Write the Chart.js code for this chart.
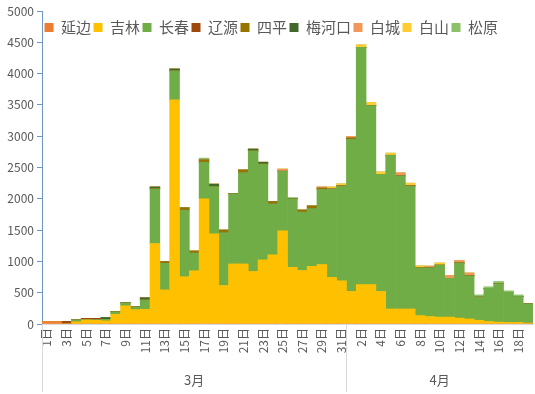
<!DOCTYPE html>
<html>
<head>
<meta charset="utf-8">
<script src="https://cdn.jsdelivr.net/npm/chart.js@4.4.0/dist/chart.umd.min.js"></script>
<style>
  html, body { margin: 0; padding: 0; background: #fff; }
  #wrap { width: 535px; height: 394px; position: relative; }
</style>
</head>
<body>
<div id="wrap"><canvas id="caseChart"></canvas></div>
<script>
const monthLabels = ['3月', '4月'];
const monthDays = [31, 19];

const dayLabels = [
  '1日', '2日', '3日', '4日', '5日', '6日', '7日', '8日', '9日', '10日',
  '11日', '12日', '13日', '14日', '15日', '16日', '17日', '18日', '19日', '20日',
  '21日', '22日', '23日', '24日', '25日', '26日', '27日', '28日', '29日', '30日',
  '31日',
  '1日', '2日', '3日', '4日', '5日', '6日', '7日', '8日', '9日', '10日',
  '11日', '12日', '13日', '14日', '15日', '16日', '17日', '18日', '19日'
];

const yTicks = [0, 500, 1000, 1500, 2000, 2500, 3000, 3500, 4000, 4500, 5000];

// 3月 1-31, then 4月 1-19
const yanbian = [
  40, 40, 0, 0, 0, 0, 0, 0, 0, 0,
  0, 0, 0, 0, 0, 0, 0, 0, 0, 0,
  0, 0, 0, 0, 0, 0, 0, 0, 0, 0,
  0,
  0, 0, 0, 0, 0, 0, 0, 0, 0, 0,
  0, 0, 0, 0, 0, 0, 0, 0, 0
];
const jilin = [
  0, 0, 0, 35, 65, 60, 50, 155, 290, 230,
  235, 1285, 545, 3580, 755, 850, 2000, 1440, 615, 960,
  960, 840, 1025, 1105, 1490, 905, 855, 920, 950, 745,
  690,
  520, 630, 630, 520, 240, 240, 240, 135, 120, 110,
  110, 95, 80, 60, 40, 30, 25, 25, 15
];
const changchun = [
  0, 0, 0, 35, 5, 10, 25, 40, 50, 45,
  150, 875, 425, 465, 1065, 285, 585, 755, 845, 1120,
  1460, 1925, 1530, 815, 950, 1095, 935, 925, 1200, 1410,
  1515,
  2430, 3790, 2860, 1870, 2455, 2125, 1965, 760, 780, 830,
  620, 880, 690, 370, 530, 615, 480, 415, 310
];
const liaoyuan = [
  0, 0, 40, 0, 20, 20, 0, 0, 0, 0,
  0, 0, 0, 0, 0, 0, 0, 0, 0, 0,
  0, 0, 0, 0, 0, 0, 0, 0, 0, 0,
  0,
  0, 0, 0, 0, 0, 0, 0, 0, 0, 0,
  0, 0, 0, 0, 0, 0, 0, 0, 0
];
const siping = [
  0, 0, 0, 0, 0, 0, 0, 0, 0, 0,
  0, 0, 30, 0, 35, 30, 35, 0, 40, 0,
  40, 0, 0, 35, 0, 0, 30, 40, 20, 0,
  0,
  20, 0, 0, 0, 0, 0, 0, 0, 0, 0,
  0, 0, 0, 0, 0, 0, 0, 0, 0
];
const meihekou = [
  0, 0, 0, 0, 0, 0, 30, 0, 0, 0,
  35, 30, 0, 30, 0, 0, 0, 40, 0, 0,
  0, 30, 30, 0, 0, 0, 0, 0, 0, 0,
  0,
  0, 0, 0, 0, 0, 0, 0, 0, 0, 0,
  0, 0, 0, 0, 0, 0, 0, 0, 0
];
const baicheng = [
  0, 0, 0, 0, 0, 0, 0, 0, 0, 0,
  0, 0, 0, 0, 0, 0, 0, 0, 0, 0,
  0, 0, 0, 0, 35, 0, 0, 0, 20, 15,
  0,
  25, 0, 0, 0, 0, 50, 10, 0, 25, 0,
  45, 40, 45, 0, 0, 0, 0, 0, 0
];
const baishan = [
  0, 0, 0, 0, 0, 0, 0, 0, 0, 0,
  0, 0, 0, 0, 0, 0, 0, 0, 0, 0,
  0, 0, 0, 0, 0, 0, 0, 0, 0, 20,
  35,
  0, 40, 50, 40, 35, 0, 35, 35, 0, 35,
  0, 0, 0, 0, 0, 0, 0, 0, 0
];
const songyuan = [
  0, 0, 0, 0, 0, 0, 0, 0, 0, 0,
  0, 0, 0, 0, 0, 0, 30, 0, 0, 0,
  0, 0, 0, 0, 0, 20, 0, 0, 0, 0,
  0,
  0, 0, 0, 0, 0, 0, 0, 0, 0, 0,
  0, 0, 0, 35, 25, 35, 25, 25, 0
];

const textColor = '#595959';
const axisColor = '#6C97C4';
const lightLine = '#D9D9D9';
const fontFamily = '"Noto Sans CJK SC", "Noto Sans", sans-serif';

function series(label, data, color) {
  return {
    label,
    data,
    backgroundColor: color,
    borderWidth: 0,
    barPercentage: 1,
    categoryPercentage: 1,
  };
}

// one-row legend sitting inside the plot, top-left
const insideLegendPlugin = {
  id: 'insideLegend',
  afterDraw(chart) {
    const ctx = chart.ctx;
    const boxSize = 9;
    const fontSize = 15;
    const centerY = chart.chartArea.top + 16.5;
    let x = chart.chartArea.left + 2.5;

    ctx.save();
    ctx.font = fontSize + 'px ' + fontFamily;
    ctx.textBaseline = 'middle';
    ctx.textAlign = 'left';
    chart.data.datasets.forEach((dataset) => {
      ctx.fillStyle = dataset.backgroundColor;
      ctx.fillRect(x, centerY - boxSize / 2, boxSize, boxSize);
      ctx.fillStyle = textColor;
      const textX = x + boxSize + fontSize / 2;
      ctx.fillText(dataset.label, textX, centerY);
      x = textX + ctx.measureText(dataset.label).width + 2.5;
    });
    ctx.restore();
  },
};

// draws the 3月 / 4月 group row under the day labels
const monthGroupPlugin = {
  id: 'monthGroups',
  afterDraw(chart) {
    const xScale = chart.scales.x;
    const ctx = chart.ctx;
    const step = xScale.getPixelForValue(1) - xScale.getPixelForValue(0);
    let startIndex = 0;

    ctx.save();
    ctx.strokeStyle = lightLine;
    ctx.lineWidth = 1;
    ctx.fillStyle = textColor;
    ctx.font = '13px ' + fontFamily;
    ctx.textAlign = 'center';
    ctx.textBaseline = 'middle';

    monthLabels.forEach((month, i) => {
      const endIndex = startIndex + monthDays[i] - 1;
      const left = xScale.getPixelForValue(startIndex) - step / 2;
      const right = xScale.getPixelForValue(endIndex) + step / 2;
      const lineX = Math.round(left) + 0.5;
      ctx.beginPath();
      ctx.moveTo(lineX, xScale.top);
      ctx.lineTo(lineX, chart.height - 2);
      ctx.stroke();
      ctx.fillText(month, (left + right) / 2, xScale.bottom - 14);
      startIndex = endIndex + 1;
    });
    ctx.restore();
  },
};

new Chart(document.getElementById('caseChart'), {
  type: 'bar',
  data: {
    labels: dayLabels,
    datasets: [
      series('延边', yanbian, '#ED7D31'),
      series('吉林', jilin, '#FFC000'),
      series('长春', changchun, '#70AD47'),
      series('辽源', liaoyuan, '#9E480E'),
      series('四平', siping, '#997300'),
      series('梅河口', meihekou, '#43682B'),
      series('白城', baicheng, '#F1975A'),
      series('白山', baishan, '#FFCD33'),
      series('松原', songyuan, '#8CC168'),
    ],
  },
  options: {
    responsive: true,
    maintainAspectRatio: false,
    animation: false,
    layout: {
      autoPadding: false,
      padding: { top: 11, right: 2, bottom: 0, left: 0 },
    },
    plugins: {
      tooltip: { enabled: false },
      legend: { display: false },
    },
    scales: {
      x: {
        stacked: true,
        grid: { display: false, drawTicks: false },
        border: { display: true, color: lightLine },
        ticks: {
          autoSkip: false,
          minRotation: 90,
          maxRotation: 90,
          padding: 4,
          color: textColor,
          font: { family: fontFamily, size: 12 },
          callback(value, index) {
            return index % 2 === 0 ? this.getLabelForValue(value) : '';
          },
        },
        afterFit(scale) {
          scale.height = 70;
          scale.paddingLeft = 0;
          scale.paddingRight = 0;
        },
      },
      y: {
        stacked: true,
        min: yTicks[0],
        max: yTicks[yTicks.length - 1],
        afterBuildTicks(scale) {
          scale.ticks = yTicks.map((value) => ({ value }));
        },
        grid: {
          drawOnChartArea: false,
          drawTicks: true,
          tickLength: 5,
          color: axisColor,
        },
        border: { display: true, color: axisColor },
        ticks: {
          padding: 3,
          color: textColor,
          font: { family: fontFamily, size: 12 },
          callback(value) {
            return String(value);
          },
        },
        afterFit(scale) {
          scale.width = 42;
        },
      },
    },
  },
  plugins: [insideLegendPlugin, monthGroupPlugin],
});
</script>
</body>
</html>
